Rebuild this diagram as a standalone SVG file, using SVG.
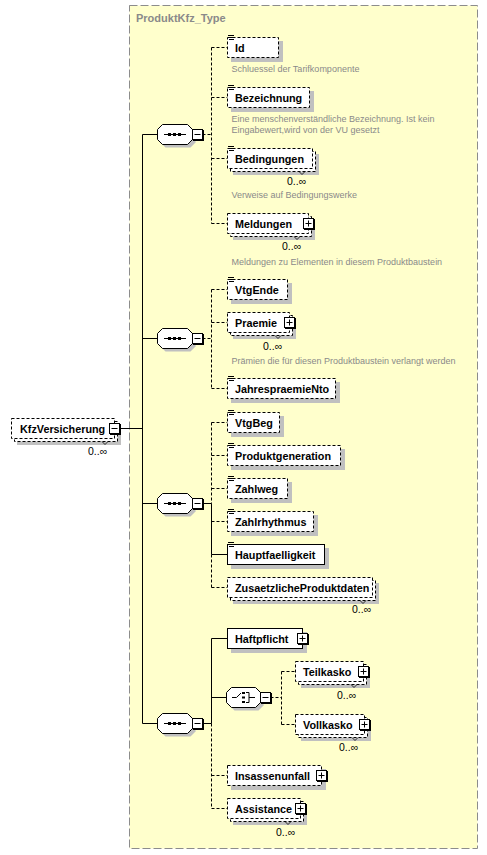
<svg xmlns="http://www.w3.org/2000/svg" width="487" height="855" viewBox="0 0 487 855">
<defs>
<style>
.ct{fill:#FFFFCC;stroke:#8c8c8c;stroke-width:1;stroke-dasharray:8,3}
.ttl{font-family:"Liberation Sans",Arial,sans-serif;font-size:11px;font-weight:bold;fill:#8a8a8a}
.sh{fill:#c0c0c0}
.bo{fill:#fff;stroke:#000;stroke-width:1;stroke-dasharray:3,2}
.br{fill:#fff;stroke:#000;stroke-width:1}
.lbl{font-family:"Liberation Sans",Arial,sans-serif;font-size:10.8px;font-weight:bold;fill:#000}
.doc{font-family:"Liberation Sans",Arial,sans-serif;font-size:9px;fill:#8a8a8a}
.occ{font-family:"Liberation Sans",Arial,sans-serif;font-size:10.5px;fill:#000}
.ic{stroke:#000;stroke-width:1;fill:none}
.btn{fill:#fff;stroke:#000;stroke-width:1}
.bsh{fill:#000}
.oct{fill:#fff;stroke:#000;stroke-width:1}
.c{stroke:#000;stroke-width:1;fill:none}
.d{stroke:#000;stroke-width:1;fill:none;stroke-dasharray:3,2}
.tk{stroke:#000;stroke-width:0.8;fill:none}
.dot{fill:#000}
</style>
</defs>
<rect width="487" height="855" fill="#fff"/>

<g id="container">
<rect class="ct" x="129.5" y="5.5" width="348" height="843"/>
<text class="ttl" x="136" y="22">ProduktKfz_Type</text>
</g>

<g id="connectors">
<path class="c" d="M120,428.5H142.5M142.5,134.5V723.5M142.5,134.5H157.5M142.5,338.5H157.5M142.5,503.5H157.5M142.5,723.5H157.5"/>
<path class="d" d="M202.5,134.5H211.5M211.5,47.5V223.5M211.5,47.5H227.5M211.5,97.5H227.5M211.5,158.5H227.5M211.5,223.5H227.5"/>
<path class="d" d="M202.5,338.5H211.5M211.5,289.5V388.5M211.5,289.5H227.5M211.5,322.5H227.5M211.5,388.5H227.5"/>
<path class="c" d="M202.5,503.5H211.5M211.5,503.5V554.5M211.5,554.5H227.5"/>
<path class="d" d="M211.5,422.5V503.5M211.5,554.5V587.5M211.5,422.5H227.5M211.5,455.5H227.5M211.5,488.5H227.5M211.5,521.5H227.5M211.5,587.5H227.5"/>
<path class="c" d="M202.5,723.5H211.5M211.5,638.5V723.5M211.5,638.5H227.5M211.5,697.5H226.5"/>
<path class="d" d="M211.5,723.5V808.5M211.5,775.5H227.5M211.5,808.5H227.5"/>
<path class="d" d="M270.5,697.5H281.5M281.5,671.5V724.5M281.5,671.5H295.5M281.5,724.5H295.5"/>
</g>

<g id="n-KfzVersicherung">
<rect class="sh" x="17" y="424" width="104" height="21"/>
<rect class="bo" x="14.5" y="421.5" width="103" height="20"/>
<rect class="bo" x="11.5" y="418.5" width="103" height="20"/>
<text class="lbl" x="20" y="432.5">KfzVersicherung</text>
<path class="tk" d="M102,441.5l3,3l3,-3"/>
<rect class="bsh" x="110" y="424" width="11" height="11"/>
<rect class="btn" x="109.5" y="423.5" width="10" height="10"/>
<path class="ic" d="M111.5,428.5h6"/>
<text class="occ" x="88" y="455">0..∞</text>
</g>

<g id="seq1">
<polygon class="sh" points="165.5,127.5 190.5,127.5 195.5,132.5 195.5,142.5 190.5,147.5 165.5,147.5 160.5,142.5 160.5,132.5"/>
<polygon class="oct" points="162.5,124.5 187.5,124.5 192.5,129.5 192.5,139.5 187.5,144.5 162.5,144.5 157.5,139.5 157.5,129.5"/>
<path class="ic" d="M164,134.5H186"/>
<rect class="dot" x="168" y="133" width="3" height="3"/><rect class="dot" x="173" y="133" width="3" height="3"/><rect class="dot" x="178" y="133" width="3" height="3"/>
<rect class="bsh" x="193" y="130" width="11" height="11"/>
<rect class="btn" x="192.5" y="129.5" width="10" height="10"/>
<path class="ic" d="M194.5,134.5h6"/>
</g>

<g id="n-Id">
<rect class="sh" x="231" y="41" width="52" height="21"/>
<rect class="bo" x="227.5" y="37.5" width="51" height="20"/>
<path class="ic" d="M228,35.5h6M229,37.5h5M229,39.5h5"/>
<text class="lbl" x="235" y="51.5">Id</text>
<text class="doc" x="231.5" y="72">Schluessel der Tarifkomponente</text>
</g>

<g id="n-Bezeichnung">
<rect class="sh" x="231" y="91" width="83" height="21"/>
<rect class="bo" x="227.5" y="87.5" width="82" height="20"/>
<path class="ic" d="M228,85.5h6M229,87.5h5M229,89.5h5"/>
<text class="lbl" x="235" y="101.5">Bezeichnung</text>
<text class="doc" x="231.5" y="122">Eine menschenverständliche Bezeichnung. Ist kein</text>
<text class="doc" x="231.5" y="132.5">Eingabewert,wird von der VU gesetzt</text>
</g>

<g id="n-Bedingungen">
<rect class="sh" x="233" y="154" width="86" height="21"/>
<rect class="bo" x="230.5" y="151.5" width="85" height="20"/>
<rect class="bo" x="227.5" y="148.5" width="85" height="20"/>
<path class="ic" d="M228,146.5h6M229,148.5h5M229,150.5h5"/>
<text class="lbl" x="235" y="162.5">Bedingungen</text>
<path class="tk" d="M299,171.5l3,3l3,-3"/>
<text class="occ" x="287" y="185">0..∞</text>
<text class="doc" x="231.5" y="198">Verweise auf Bedingungswerke</text>
</g>

<g id="n-Meldungen">
<rect class="sh" x="233" y="219" width="82" height="21"/>
<rect class="bo" x="230.5" y="216.5" width="81" height="20"/>
<rect class="bo" x="227.5" y="213.5" width="81" height="20"/>
<text class="lbl" x="235" y="227.5">Meldungen</text>
<path class="tk" d="M294,236.5l3,3l3,-3"/>
<rect class="bsh" x="304" y="219" width="11" height="11"/>
<rect class="btn" x="303.5" y="218.5" width="10" height="10"/>
<path class="ic" d="M305.5,223.5h6M308.5,220.5v6"/>
<text class="occ" x="282" y="250">0..∞</text>
<text class="doc" x="231.5" y="265">Meldungen zu Elementen in diesem Produktbaustein</text>
</g>

<g id="seq2">
<polygon class="sh" points="165.5,331.5 190.5,331.5 195.5,336.5 195.5,346.5 190.5,351.5 165.5,351.5 160.5,346.5 160.5,336.5"/>
<polygon class="oct" points="162.5,328.5 187.5,328.5 192.5,333.5 192.5,343.5 187.5,348.5 162.5,348.5 157.5,343.5 157.5,333.5"/>
<path class="ic" d="M164,338.5H186"/>
<rect class="dot" x="168" y="337" width="3" height="3"/><rect class="dot" x="173" y="337" width="3" height="3"/><rect class="dot" x="178" y="337" width="3" height="3"/>
<rect class="bsh" x="193" y="334" width="11" height="11"/>
<rect class="btn" x="192.5" y="333.5" width="10" height="10"/>
<path class="ic" d="M194.5,338.5h6"/>
</g>

<g id="n-VtgEnde">
<rect class="sh" x="231" y="283" width="61" height="21"/>
<rect class="bo" x="227.5" y="279.5" width="60" height="20"/>
<path class="ic" d="M228,277.5h6M229,279.5h5M229,281.5h5"/>
<text class="lbl" x="235" y="293.5">VtgEnde</text>
</g>

<g id="n-Praemie">
<rect class="sh" x="233" y="318" width="63" height="21"/>
<rect class="bo" x="230.5" y="315.5" width="62" height="20"/>
<rect class="bo" x="227.5" y="312.5" width="62" height="20"/>
<text class="lbl" x="235" y="326.5">Praemie</text>
<path class="tk" d="M275,335.5l3,3l3,-3"/>
<rect class="bsh" x="285" y="318" width="11" height="11"/>
<rect class="btn" x="284.5" y="317.5" width="10" height="10"/>
<path class="ic" d="M286.5,322.5h6M289.5,319.5v6"/>
<text class="occ" x="263" y="350">0..∞</text>
<text class="doc" x="231.5" y="364">Prämien die für diesen Produktbaustein verlangt werden</text>
</g>

<g id="n-JahrespraemieNto">
<rect class="sh" x="231" y="382" width="109" height="21"/>
<rect class="bo" x="227.5" y="378.5" width="108" height="20"/>
<path class="ic" d="M228,376.5h6M229,378.5h5M229,380.5h5"/>
<text class="lbl" x="235" y="392.5">JahrespraemieNto</text>
</g>

<g id="seq3">
<polygon class="sh" points="165.5,496.5 190.5,496.5 195.5,501.5 195.5,511.5 190.5,516.5 165.5,516.5 160.5,511.5 160.5,501.5"/>
<polygon class="oct" points="162.5,493.5 187.5,493.5 192.5,498.5 192.5,508.5 187.5,513.5 162.5,513.5 157.5,508.5 157.5,498.5"/>
<path class="ic" d="M164,503.5H186"/>
<rect class="dot" x="168" y="502" width="3" height="3"/><rect class="dot" x="173" y="502" width="3" height="3"/><rect class="dot" x="178" y="502" width="3" height="3"/>
<rect class="bsh" x="193" y="499" width="11" height="11"/>
<rect class="btn" x="192.5" y="498.5" width="10" height="10"/>
<path class="ic" d="M194.5,503.5h6"/>
</g>

<g id="n-VtgBeg">
<rect class="sh" x="231" y="416" width="53" height="21"/>
<rect class="bo" x="227.5" y="412.5" width="52" height="20"/>
<path class="ic" d="M228,410.5h6M229,412.5h5M229,414.5h5"/>
<text class="lbl" x="235" y="426.5">VtgBeg</text>
</g>

<g id="n-Produktgeneration">
<rect class="sh" x="231" y="449" width="114" height="21"/>
<rect class="bo" x="227.5" y="445.5" width="113" height="20"/>
<path class="ic" d="M228,443.5h6M229,445.5h5M229,447.5h5"/>
<text class="lbl" x="235" y="459.5">Produktgeneration</text>
</g>

<g id="n-Zahlweg">
<rect class="sh" x="231" y="482" width="61" height="21"/>
<rect class="bo" x="227.5" y="478.5" width="60" height="20"/>
<path class="ic" d="M228,476.5h6M229,478.5h5M229,480.5h5"/>
<text class="lbl" x="235" y="492.5">Zahlweg</text>
</g>

<g id="n-Zahlrhythmus">
<rect class="sh" x="231" y="515" width="87" height="21"/>
<rect class="bo" x="227.5" y="511.5" width="86" height="20"/>
<path class="ic" d="M228,509.5h6M229,511.5h5M229,513.5h5"/>
<text class="lbl" x="235" y="525.5">Zahlrhythmus</text>
</g>

<g id="n-Hauptfaelligkeit">
<rect class="sh" x="231" y="548" width="98" height="21"/>
<rect class="br" x="227.5" y="544.5" width="97" height="20"/>
<path class="ic" d="M228,542.5h6M229,544.5h5M229,546.5h5"/>
<text class="lbl" x="235" y="558.5">Hauptfaelligkeit</text>
</g>

<g id="n-ZusaetzlicheProduktdaten">
<rect class="sh" x="233" y="583" width="146" height="21"/>
<rect class="bo" x="230.5" y="580.5" width="145" height="20"/>
<rect class="bo" x="227.5" y="577.5" width="145" height="20"/>
<text class="lbl" x="235" y="591.5">ZusaetzlicheProduktdaten</text>
<path class="tk" d="M360,600.5l3,3l3,-3"/>
<text class="occ" x="352" y="613">0..∞</text>
</g>

<g id="seq4">
<polygon class="sh" points="165.5,716.5 190.5,716.5 195.5,721.5 195.5,731.5 190.5,736.5 165.5,736.5 160.5,731.5 160.5,721.5"/>
<polygon class="oct" points="162.5,713.5 187.5,713.5 192.5,718.5 192.5,728.5 187.5,733.5 162.5,733.5 157.5,728.5 157.5,718.5"/>
<path class="ic" d="M164,723.5H186"/>
<rect class="dot" x="168" y="722" width="3" height="3"/><rect class="dot" x="173" y="722" width="3" height="3"/><rect class="dot" x="178" y="722" width="3" height="3"/>
<rect class="bsh" x="193" y="719" width="11" height="11"/>
<rect class="btn" x="192.5" y="718.5" width="10" height="10"/>
<path class="ic" d="M194.5,723.5h6"/>
</g>

<g id="n-Haftpflicht">
<rect class="sh" x="231" y="632" width="76" height="21"/>
<rect class="br" x="227.5" y="628.5" width="75" height="20"/>
<text class="lbl" x="235" y="642.5">Haftpflicht</text>
<rect class="bsh" x="298" y="634" width="11" height="11"/>
<rect class="btn" x="297.5" y="633.5" width="10" height="10"/>
<path class="ic" d="M299.5,638.5h6M302.5,635.5v6"/>
</g>

<g id="choice">
<polygon class="sh" points="234.5,690.5 258.5,690.5 263.5,695.5 263.5,705.5 258.5,710.5 234.5,710.5 229.5,705.5 229.5,695.5"/>
<polygon class="oct" points="231.5,687.5 255.5,687.5 260.5,692.5 260.5,702.5 255.5,707.5 231.5,707.5 226.5,702.5 226.5,692.5"/>
<path class="ic" d="M232,697.5H236.5L241,693"/>
<rect class="dot" x="242" y="692" width="3" height="2"/><rect class="dot" x="242" y="696.5" width="3" height="2"/><rect class="dot" x="242" y="701" width="3" height="2"/>
<path class="ic" d="M246,692.5h3v10h-3M249,697.5H255"/>
<rect class="bsh" x="261" y="693" width="11" height="11"/>
<rect class="btn" x="260.5" y="692.5" width="10" height="10"/>
<path class="ic" d="M262.5,697.5h6"/>
</g>

<g id="n-Teilkasko">
<rect class="sh" x="301" y="667" width="69" height="21"/>
<rect class="bo" x="298.5" y="664.5" width="68" height="20"/>
<rect class="bo" x="295.5" y="661.5" width="68" height="20"/>
<text class="lbl" x="303" y="675.5">Teilkasko</text>
<path class="tk" d="M351,684.5l3,3l3,-3"/>
<rect class="bsh" x="359" y="667" width="11" height="11"/>
<rect class="btn" x="358.5" y="666.5" width="10" height="10"/>
<path class="ic" d="M360.5,671.5h6M363.5,668.5v6"/>
<text class="occ" x="337" y="699">0..∞</text>
</g>

<g id="n-Vollkasko">
<rect class="sh" x="301" y="720" width="70" height="21"/>
<rect class="bo" x="298.5" y="717.5" width="69" height="20"/>
<rect class="bo" x="295.5" y="714.5" width="69" height="20"/>
<text class="lbl" x="303" y="728.5">Vollkasko</text>
<path class="tk" d="M352,737.5l3,3l3,-3"/>
<rect class="bsh" x="360" y="720" width="11" height="11"/>
<rect class="btn" x="359.5" y="719.5" width="10" height="10"/>
<path class="ic" d="M361.5,724.5h6M364.5,721.5v6"/>
<text class="occ" x="339" y="751">0..∞</text>
</g>

<g id="n-Insassenunfall">
<rect class="sh" x="231" y="769" width="95" height="21"/>
<rect class="bo" x="227.5" y="765.5" width="94" height="20"/>
<text class="lbl" x="235" y="779.5">Insassenunfall</text>
<rect class="bsh" x="317" y="771" width="11" height="11"/>
<rect class="btn" x="316.5" y="770.5" width="10" height="10"/>
<path class="ic" d="M318.5,775.5h6M321.5,772.5v6"/>
</g>

<g id="n-Assistance">
<rect class="sh" x="233" y="804" width="74" height="21"/>
<rect class="bo" x="230.5" y="801.5" width="73" height="20"/>
<rect class="bo" x="227.5" y="798.5" width="73" height="20"/>
<text class="lbl" x="235" y="812.5">Assistance</text>
<path class="tk" d="M285,821.5l3,3l3,-3"/>
<rect class="bsh" x="296" y="804" width="11" height="11"/>
<rect class="btn" x="295.5" y="803.5" width="10" height="10"/>
<path class="ic" d="M297.5,808.5h6M300.5,805.5v6"/>
<text class="occ" x="276" y="836">0..∞</text>
</g>
</svg>
